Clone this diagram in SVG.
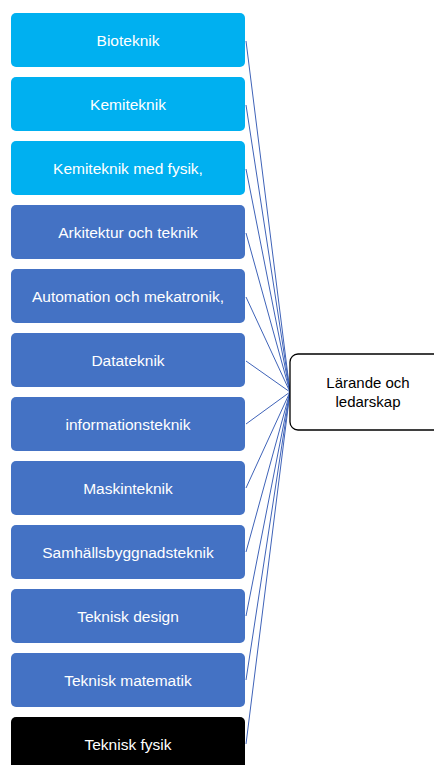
<svg xmlns="http://www.w3.org/2000/svg" width="434" height="765" viewBox="0 0 434 765">
<style>
.n rect{stroke:none}
.lb rect{fill:#00B0F0}
.db rect{fill:#4472C4}
.bk rect{fill:#000000}
.n text{font-family:"Liberation Sans",Arial,sans-serif;font-size:15.5px;fill:#ffffff;text-anchor:middle}
.c line{stroke:#3F63B8;stroke-width:1}
.t rect{fill:#ffffff;stroke:#000000;stroke-width:1.3}
.t text{font-family:"Liberation Sans",Arial,sans-serif;font-size:15px;fill:#000000;text-anchor:middle}
</style>
<rect width="434" height="765" fill="#ffffff"/>
<g id="connectors" class="c">
<line x1="246" y1="41" x2="290" y2="392"/>
<line x1="246" y1="105" x2="290" y2="392"/>
<line x1="246" y1="169" x2="290" y2="392"/>
<line x1="246" y1="233" x2="290" y2="392"/>
<line x1="246" y1="297" x2="290" y2="392"/>
<line x1="246" y1="361" x2="290" y2="392"/>
<line x1="246" y1="424" x2="290" y2="392"/>
<line x1="246" y1="488" x2="290" y2="392"/>
<line x1="246" y1="552" x2="290" y2="392"/>
<line x1="246" y1="616" x2="290" y2="392"/>
<line x1="246" y1="680" x2="290" y2="392"/>
<line x1="246" y1="744" x2="290" y2="392"/>
</g>
<g id="n1" class="n lb"><rect x="11" y="13" width="234" height="54" rx="5"/><text x="128" y="46">Bioteknik</text></g>
<g id="n2" class="n lb"><rect x="11" y="77" width="234" height="54" rx="5"/><text x="128" y="110">Kemiteknik</text></g>
<g id="n3" class="n lb"><rect x="11" y="141" width="234" height="54" rx="5"/><text x="128" y="174">Kemiteknik med fysik,</text></g>
<g id="n4" class="n db"><rect x="11" y="205" width="234" height="54" rx="5"/><text x="128" y="238">Arkitektur och teknik</text></g>
<g id="n5" class="n db"><rect x="11" y="269" width="234" height="54" rx="5"/><text x="128" y="302">Automation och mekatronik,</text></g>
<g id="n6" class="n db"><rect x="11" y="333" width="234" height="54" rx="5"/><text x="128" y="366">Datateknik</text></g>
<g id="n7" class="n db"><rect x="11" y="397" width="234" height="54" rx="5"/><text x="128" y="430">informationsteknik</text></g>
<g id="n8" class="n db"><rect x="11" y="461" width="234" height="54" rx="5"/><text x="128" y="494">Maskinteknik</text></g>
<g id="n9" class="n db"><rect x="11" y="525" width="234" height="54" rx="5"/><text x="128" y="558">Samhällsbyggnadsteknik</text></g>
<g id="n10" class="n db"><rect x="11" y="589" width="234" height="54" rx="5"/><text x="128" y="622">Teknisk design</text></g>
<g id="n11" class="n db"><rect x="11" y="653" width="234" height="54" rx="5"/><text x="128" y="686">Teknisk matematik</text></g>
<g id="n12" class="n bk"><rect x="11" y="717" width="234" height="60" rx="5"/><text x="128" y="750">Teknisk fysik</text></g>
<g id="target" class="t"><rect x="290" y="354" width="160" height="76" rx="8"/><text x="368" y="388">Lärande och</text><text x="368" y="407">ledarskap</text></g>
</svg>
